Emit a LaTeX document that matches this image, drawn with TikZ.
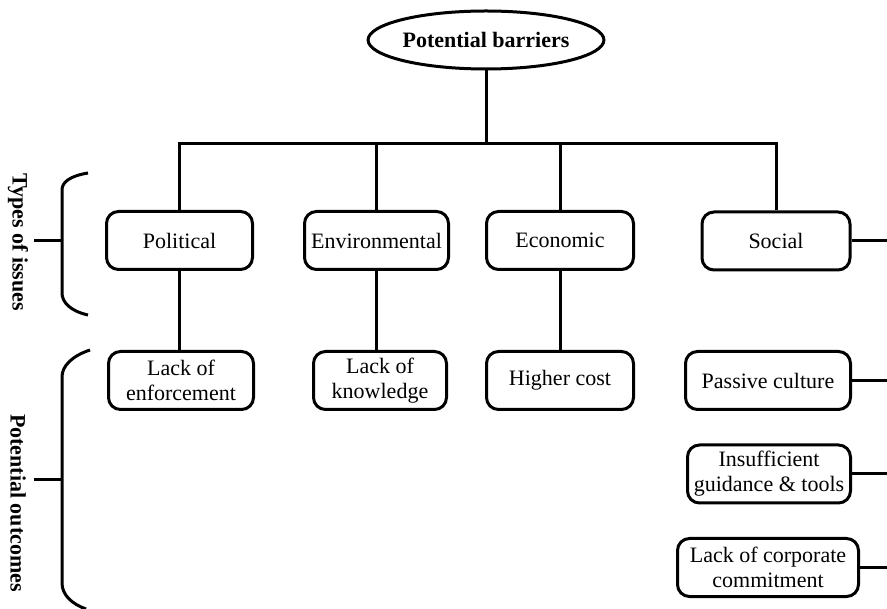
\documentclass[tikz,border=0pt]{standalone}
\usepackage{fontspec}
\setmainfont{Liberation Serif}
\usepackage{tikz}
\usetikzlibrary{shapes.geometric}
\tikzset{
  box/.style     = {draw,line width=3pt,rounded corners=12pt,align=center,
                     inner sep=0pt,minimum height=58pt,
                     font=\fontsize{22}{25}\selectfont},
  issue/.style   = {box,minimum width=146pt},
  outcome/.style = {box,minimum width=146pt},
  root/.style    = {draw,ellipse,line width=3pt,minimum width=222pt,
                     minimum height=58pt,inner sep=0pt,
                     font=\fontsize{22}{25}\selectfont\bfseries},
  link/.style    = {line width=3pt},
  side/.style    = {font=\fontsize{22}{25}\selectfont\bfseries,rotate=-90},
}

\begin{document}
\begin{tikzpicture}[x=1pt,y=-1pt]
  \useasboundingbox (0,0) rectangle (887,609);

  % Root
  \node[root] (root) at (486,40) {Potential barriers};
  \coordinate (bar) at (486,144);
  \coordinate (rim) at (887,0);

  % Types of issues
  \node[issue] (pol) at (179.5,240.5) {Political};
  \node[issue,minimum width=144pt] (env) at (376.5,240.5) {Environmental};
  \node[issue,minimum width=147pt] (eco) at (560,240.5) {Economic};
  \node[issue,minimum width=148pt] (soc) at (776,241) {Social};

  % Potential outcomes
  \node[outcome,minimum width=145pt] (loe) at (181,380.5) {Lack of\\ enforcement};
  \node[outcome,minimum width=133pt] (lok) at (380,380.5) {Lack of\\ knowledge};
  \node[outcome,minimum width=147pt] (hc) at (560,380.5) {Higher cost};
  \node[outcome,minimum width=165pt] (pc) at (768,380.5) {Passive culture};
  \node[outcome,minimum width=163pt] (ig) at (769,474) {Insufficient\\ guidance \& tools};
  \node[outcome,minimum width=181pt] (lcc) at (768,567.5)
        {Lack of corporate\\ commitment};

  % root -> issues
  \draw[link] (root.south) -- (bar);
  \draw[link] (pol.north) |- (bar) -| (soc.north);
  \draw[link] (env.north) -- (env.north |- bar);
  \draw[link] (eco.north) -- (eco.north |- bar);

  % issues -> outcomes
  \draw[link] (pol.south) -- (pol.south |- loe.north);
  \draw[link] (env.south) -- (env.south |- lok.north);
  \draw[link] (eco.south) -- (eco.south |- hc.north);
  \foreach \n in {soc,pc,ig,lcc}
    \draw[link] (\n.east) -- (\n.east -| rim);

  % side braces
  \draw[link] (88,173) .. controls (70,176) and (62,182) .. (62,190)
        -- (62,293) .. controls (62,302) and (70,311) .. (88,315);
  \draw[link] (34,241) -- (62,241);
  \node[side] (types) at (18,242) {Types of issues};

  \draw[link] (90,350) .. controls (72,356) and (62,366) .. (62,377)
        -- (62,583) .. controls (62,595) and (72,604) .. (86,609);
  \draw[link] (34,480) -- (62,480);
  \node[side] (outc) at (18,503) {Potential outcomes};
\end{tikzpicture}
\end{document}
